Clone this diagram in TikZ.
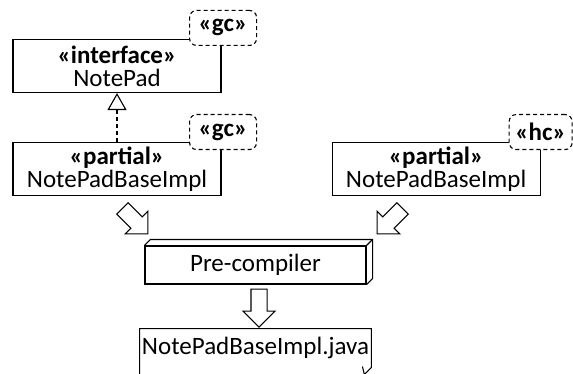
\documentclass[tikz,border=0pt]{standalone}
\usepackage{fontspec}
\setmainfont{Carlito}
\usetikzlibrary{positioning,shapes.arrows,arrows.meta}

\begin{document}
\begin{tikzpicture}[x=0.5pt,y=-0.5pt]
                \tikzstyle{every node}+=[font=\fontsize{12.5pt}{11.5pt}\selectfont]
                \tikzstyle{classbox}=[draw, line width=0.55pt, minimum width=104pt, minimum height=26.5pt, align=center, inner sep=0pt]
                \tikzstyle{tagbox}=[draw, fill=white, line width=0.55pt, dash pattern=on 2pt off 1.5pt, rounded corners=3.5pt, minimum width=33.5pt, minimum height=17.5pt, inner sep=0pt]
                \tikzstyle{cuboid}=[draw, line width=0.55pt, minimum width=110.5pt, minimum height=19pt, inner sep=0pt]
                \tikzstyle{blockarrow}=[single arrow, draw, fill=white, line width=0.55pt, single arrow tip angle=90, single arrow head extend=4pt, inner sep=3.75pt, minimum height=18pt]
                \useasboundingbox (0,0) rectangle (573,374);
                \clip (0,0) rectangle (573,374);
                % classes
                \node [classbox] (np) at (117,66) {\textbf{«interface»}\\NotePad};
                \node [classbox, below=24.5pt of np] (npgc) {\textbf{«partial»}\\NotePadBaseImpl};
                \node [classbox, right=55pt of npgc] (nphc) {\textbf{«partial»}\\NotePadBaseImpl};
                \node [tagbox] (tagnp) at ([xshift=0.75pt,yshift=5.5pt]np.north east) {\textbf{«gc»}};
                \node [tagbox] (taggc) at ([xshift=0.75pt,yshift=5pt]npgc.north east) {\textbf{«gc»}};
                \node [tagbox, minimum width=31.5pt] (taghc) at ([yshift=5pt]nphc.north east) {\textbf{«hc»}};
                \draw [line width=0.55pt, dash pattern=on 2pt off 1.5pt, -{Triangle[open, width=9.5pt, length=8.5pt, fill=white]}] (npgc) -- (np);
                % pre-compiler
                \node [cuboid] (pc) at (255.5,265) {Pre-compiler};
                \draw [line width=0.55pt] (pc.north west) -- ++(6,-6) -- ([shift={(6,-6)}]pc.north east) -- ([shift={(6,-6)}]pc.south east) -- (pc.south east);
                \draw [line width=0.55pt] (pc.north east) -- ++(6,-6);
                \node [blockarrow, rotate=-45, anchor=tip] (arrgc) at ([shift={(4,-11)}]pc.north west) {};
                \node [blockarrow, rotate=-135, anchor=tip] (arrhc) at ([shift={(10,-11)}]pc.north east) {};
                % generated file
                \node [minimum width=115.5pt, inner xsep=0pt, inner ysep=4pt, below=22pt of pc] (java) {NotePadBaseImpl.java};
                \node [blockarrow, rotate=-90, anchor=tail, minimum height=19pt] (arrjava) at ([shift={(3.5,4)}]pc.south) {};
                \draw [line width=0.55pt] ([yshift=-30pt]java.north west) -- (java.north west) -- (java.north east) -- ([yshift=-19.5pt]java.north east) coordinate (fold) -- ++(-7,7) -- ++(-2,-8);
              \end{tikzpicture}
\end{document}
